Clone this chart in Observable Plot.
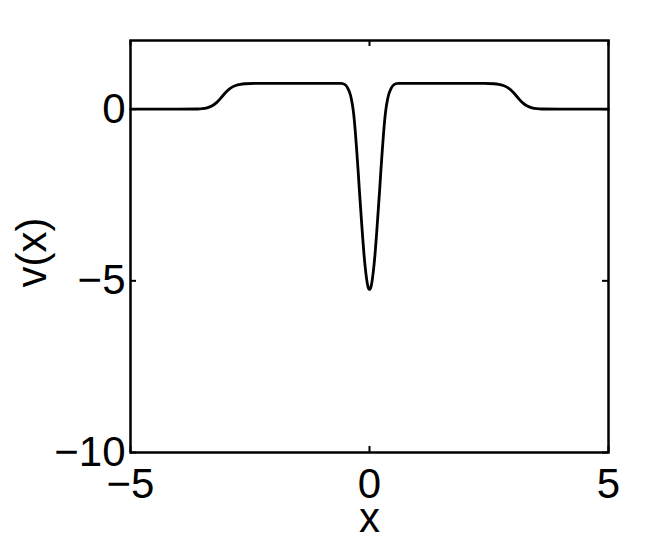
<!DOCTYPE html>
<html><head><meta charset="utf-8">
<script src="https://cdn.jsdelivr.net/npm/d3@7"></script>
<script src="https://cdn.jsdelivr.net/npm/@observablehq/plot@0.6"></script>
<style>body{margin:0;background:#fff}</style>
</head><body><div id="chart"></div>
<script>
const xs = [-5, -4, -3.6, -3.5, -3.4, -3.3, -3.2, -3.1, -3.0, -2.9, -2.8, -2.7, -2.6, -2.4, -1.0,
  -0.6, -0.55, -0.5, -0.45, -0.4, -0.36, -0.33, -0.3, -0.27, -0.24, -0.21, -0.18, -0.15, -0.12, -0.09, -0.06, -0.03,
  0,
  0.03, 0.06, 0.09, 0.12, 0.15, 0.18, 0.21, 0.24, 0.27, 0.3, 0.33, 0.36, 0.4, 0.45, 0.5, 0.55, 0.6,
  1.0, 2.4, 2.6, 2.7, 2.8, 2.9, 3.0, 3.1, 3.2, 3.3, 3.4, 3.5, 3.6, 4, 5];
const vs = [0, 0, 0.005, 0.015, 0.04, 0.09, 0.19, 0.34, 0.5, 0.62, 0.69, 0.725, 0.74, 0.75, 0.75,
  0.75, 0.74, 0.70, 0.60, 0.42, 0.15, -0.15, -0.6, -1.15, -1.75, -2.4, -3.0, -3.6, -4.15, -4.6, -4.95, -5.18,
  -5.25,
  -5.18, -4.95, -4.6, -4.15, -3.6, -3.0, -2.4, -1.75, -1.15, -0.6, -0.15, 0.15, 0.42, 0.60, 0.70, 0.74, 0.75,
  0.75, 0.75, 0.74, 0.725, 0.69, 0.62, 0.5, 0.34, 0.19, 0.09, 0.04, 0.015, 0.005, 0, 0];
const xTicks = [-5, 0, 5];
const yTicks = [-10, -5, 0];
const xDomain = [-5, 5];
const yDomain = [-10, 2];
const xLabel = "x";
const yLabel = "v(x)";

const data = xs.map((x, i) => ({x, v: vs[i]}));

const W = 672, H = 543;
const mL = 130, mR = 64, mT = 40, mB = 91;
const tickPx = 6;
const tx = tickPx * (xDomain[1] - xDomain[0]) / (W - mL - mR);
const ty = tickPx * (yDomain[1] - yDomain[0]) / (H - mT - mB);
const font = "Liberation Sans, Arial, Helvetica, sans-serif";
const fmt = d => d < 0 ? "\u2212" + Math.abs(d) : String(d);

const chart = Plot.plot({
  width: W, height: H,
  marginLeft: mL, marginRight: mR, marginTop: mT, marginBottom: mB,
  style: {fontFamily: font, fontSize: "42px", background: "#fff", color: "#000"},
  x: {domain: xDomain},
  y: {domain: yDomain},
  marks: [
    Plot.axisX(xTicks, {tickSize: 0, tickPadding: 16, label: null, fontSize: 42, tickFormat: fmt}),
    Plot.axisY(yTicks, {tickSize: 0, tickPadding: 5, label: null, fontSize: 42, tickFormat: fmt}),
    Plot.ruleX(xTicks, {x: d => d, y1: yDomain[0], y2: yDomain[0] + ty, stroke: "#000", strokeWidth: 2}),
    Plot.ruleX(xTicks, {x: d => d, y1: yDomain[1], y2: yDomain[1] - ty, stroke: "#000", strokeWidth: 2}),
    Plot.ruleY(yTicks, {y: d => d, x1: xDomain[0], x2: xDomain[0] + tx, stroke: "#000", strokeWidth: 2}),
    Plot.ruleY(yTicks, {y: d => d, x1: xDomain[1], x2: xDomain[1] - tx, stroke: "#000", strokeWidth: 2}),
    Plot.line(data, {x: "x", y: "v", curve: "monotone-x", stroke: "#000", strokeWidth: 2.8}),
    Plot.frame({stroke: "#000", strokeWidth: 2.5}),
    Plot.text([xLabel], {frameAnchor: "bottom", lineAnchor: "middle", textAnchor: "middle", dy: 66, fontSize: 42, fill: "#000"}),
    Plot.text([yLabel], {frameAnchor: "left", lineAnchor: "middle", textAnchor: "middle", rotate: -90, dx: -98, dy: 6, fontSize: 42, fill: "#000"})
  ]
});
document.getElementById("chart").appendChild(chart);
</script>
</body></html>
